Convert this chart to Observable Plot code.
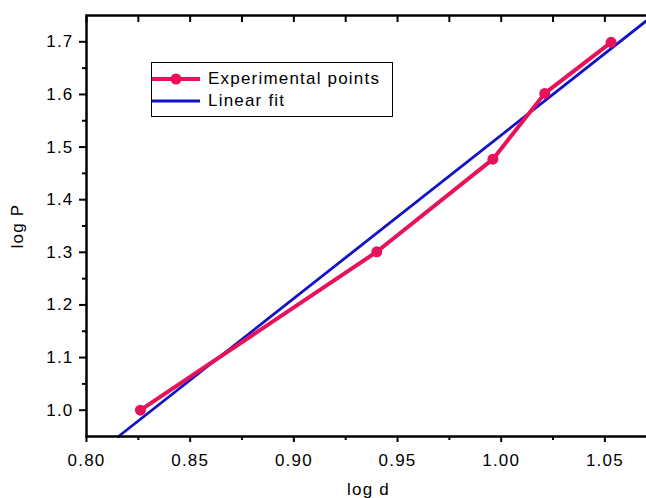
<!DOCTYPE html>
<html>
<head>
<meta charset="utf-8">
<script src="https://cdn.jsdelivr.net/npm/d3@7"></script>
<script src="https://cdn.jsdelivr.net/npm/@observablehq/plot@0.6"></script>
<style>
  html, body { margin: 0; padding: 0; background: #fff; }
  #wrap { position: relative; width: 646px; height: 498px; overflow: hidden; font-family: "Liberation Sans", Arial, Helvetica, sans-serif; }
  #wrap > svg { max-width: none !important; width: 650px; height: 498px; }
  #wrap > svg text { letter-spacing: 1.2px; }
  #legend { position: absolute; left: 151px; top: 62px; width: 242px; height: 55px; border: 1.5px solid #000; background: #fff; box-sizing: border-box; font-size: 17px; letter-spacing: 1.2px; }
  .row { position: absolute; left: 0; height: 20px; display: flex; align-items: center; line-height: 20px; white-space: nowrap; }
  .row span { margin-left: 8px; color: #000; }
  .row svg { flex: none; }
</style>
</head>
<body>
<div id="wrap"></div>
<script>
// Data
const logD = [0.826, 0.940, 0.996, 1.021, 1.053];
const logP = [1.000, 1.301, 1.477, 1.602, 1.699];
const fitX = [0.8154, 1.072];
const fitY = [0.95, 1.746];
const xMajor = [0.80, 0.85, 0.90, 0.95, 1.00, 1.05];
const xMinor = [0.825, 0.875, 0.925, 0.975, 1.025];
const yMajor = [1.0, 1.1, 1.2, 1.3, 1.4, 1.5, 1.6, 1.7];
const yMinor = [1.05, 1.15, 1.25, 1.35, 1.45, 1.55, 1.65];
const seriesNames = ["Experimental points", "Linear fit"];
const colors = ["#e8125a", "#1212c8"];

const pts = logD.map((d, i) => ({x: d, y: logP[i]}));
const fit = fitX.map((d, i) => ({x: d, y: fitY[i]}));

const chart = Plot.plot({
  width: 650,
  height: 498,
  marginLeft: 86,
  marginTop: 15,
  marginRight: 0,
  marginBottom: 62,
  style: {fontFamily: "Liberation Sans, Arial, Helvetica, sans-serif", fontSize: "17px", color: "#000", background: "#fff", overflow: "visible", maxWidth: "none"},
  x: {domain: [0.80, 1.072]},
  y: {domain: [0.95, 1.75]},
  marks: [
    Plot.line(fit, {x: "x", y: "y", stroke: colors[1], strokeWidth: 2.8}),
    Plot.line(pts, {x: "x", y: "y", stroke: colors[0], strokeWidth: 4}),
    Plot.dot(pts, {x: "x", y: "y", r: 5.5, fill: colors[0], stroke: "none"}),
    Plot.frame({stroke: "#000", strokeWidth: 2.5}),
    Plot.axisX({ticks: xMajor, tickSize: 6, tickPadding: 11, strokeWidth: 2, tickFormat: d3.format(".2f"), label: "log d", labelAnchor: "center", labelOffset: 58, labelArrow: "none", fontSize: 17}),
    Plot.axisX({ticks: xMinor, tickSize: 4, strokeWidth: 2, text: null, label: null}),
    Plot.axisX({anchor: "top", ticks: xMajor.concat(xMinor), tickSize: -6, strokeWidth: 2, text: null, label: null}),
    Plot.axisY({ticks: yMajor, tickSize: 7, tickPadding: 6, strokeWidth: 2, tickFormat: d3.format(".1f"), label: "log P", labelAnchor: "center", labelOffset: 76, labelArrow: "none", fontSize: 17}),
    Plot.axisY({ticks: yMinor, tickSize: 4, strokeWidth: 2, text: null, label: null}),
    Plot.axisY({anchor: "right", ticks: yMajor.concat(yMinor), tickSize: -5, strokeWidth: 2, text: null, label: null})
  ]
});

const wrap = document.getElementById("wrap");
wrap.appendChild(chart);

const legend = document.createElement("div");
legend.id = "legend";
const rowsTop = [6, 28];
seriesNames.forEach((name, i) => {
  const row = document.createElement("div");
  row.className = "row";
  row.style.top = rowsTop[i] + "px";
  const marker = i === 0 ? `<circle cx="24" cy="10" r="5.5" fill="${colors[0]}"/>` : "";
  row.innerHTML = `<svg width="48" height="20"><line x1="0" x2="48" y1="10" y2="10" stroke="${colors[i]}" stroke-width="${i === 0 ? 4 : 3}"/>${marker}</svg><span>${name}</span>`;
  legend.appendChild(row);
});
wrap.appendChild(legend);
</script>
</body>
</html>
